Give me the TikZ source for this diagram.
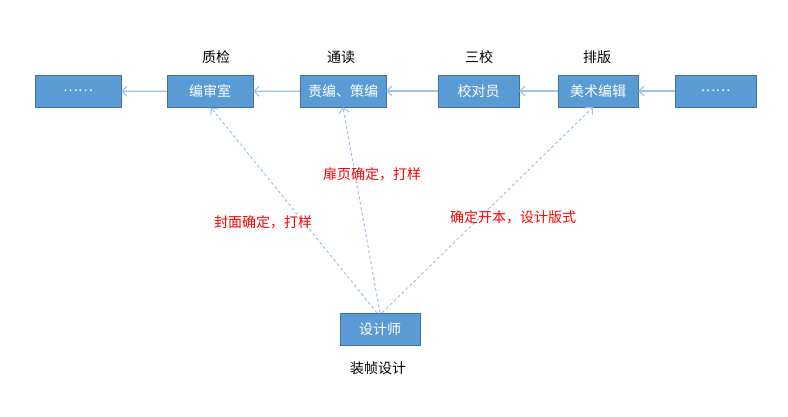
\documentclass[tikz,border=0pt]{standalone}
\usepackage{fontspec}
\setmainfont{Noto Sans CJK SC}
\usetikzlibrary{arrows.meta}
\definecolor{boxfill}{HTML}{5B9BD5}
\definecolor{boxline}{HTML}{41719C}
\definecolor{linkblue}{HTML}{9DC3E6}
\tikzset{
  stage/.style={draw=boxline,fill=boxfill,text=white,minimum height=32pt,inner sep=0pt,font=\fontsize{14}{16}\selectfont},
  flow/.style={-{Straight Barb[length=5pt,width=10pt]},color=linkblue,line width=1.2pt},
  proof/.style={-{Straight Barb[length=5pt,width=10pt]},color=linkblue,line width=1pt,dash pattern=on 3pt off 2.5pt},
  tag/.style={font=\fontsize{14}{16}\selectfont},
  note/.style={text=red,font=\fontsize{14}{16}\selectfont}
}

\begin{document}
\begin{tikzpicture}[x=1pt,y=-1pt]
\useasboundingbox (0,0) rectangle (788,417);
\node[stage,minimum width=86pt] (more1) at (78,91) {……};
\node[stage,minimum width=86pt] (bsh) at (210,91.5) {编审室};
\node[stage,minimum width=86pt] (zbcb) at (343,91) {责编、策编};
\node[stage,minimum width=81pt] (jdy) at (478.5,91) {校对员};
\node[stage,minimum width=80pt] (msbj) at (598,91) {美术编辑};
\node[stage,minimum width=81pt] (more2) at (715.5,91) {……};
\node[stage,minimum width=80pt] (sjs) at (380,329) {设计师};
% stage labels
\node[tag] (qc) at (216,57) {质检};
\node[tag] (td) at (341,57) {通读};
\node[tag] (sx) at (479,57) {三校};
\node[tag] (pb) at (597,57) {排版};
\node[tag] (zzsj) at (378,368) {装帧设计};
% main flow
\draw[flow] (more2) -- (msbj);
\draw[flow] (msbj) -- (jdy);
\draw[flow] (jdy) -- (zbcb);
\draw[flow] (zbcb) -- (bsh);
\draw[flow] (bsh) -- (more1);
% designer links
\draw[proof] ([xshift=-3pt]sjs.north) -- ([xshift=1pt]bsh.south);
\draw[proof] (sjs.north) -- (zbcb.south);
\draw[proof] ([xshift=2pt]sjs.north) -- ([xshift=-5pt]msbj.south);
\node[note] (fm) at (263,222) {封面确定，打样};
\node[note] (fy) at (372,174) {扉页确定，打样};
\node[note] (kb) at (513,217) {确定开本，设计版式};
\end{tikzpicture}
\end{document}
